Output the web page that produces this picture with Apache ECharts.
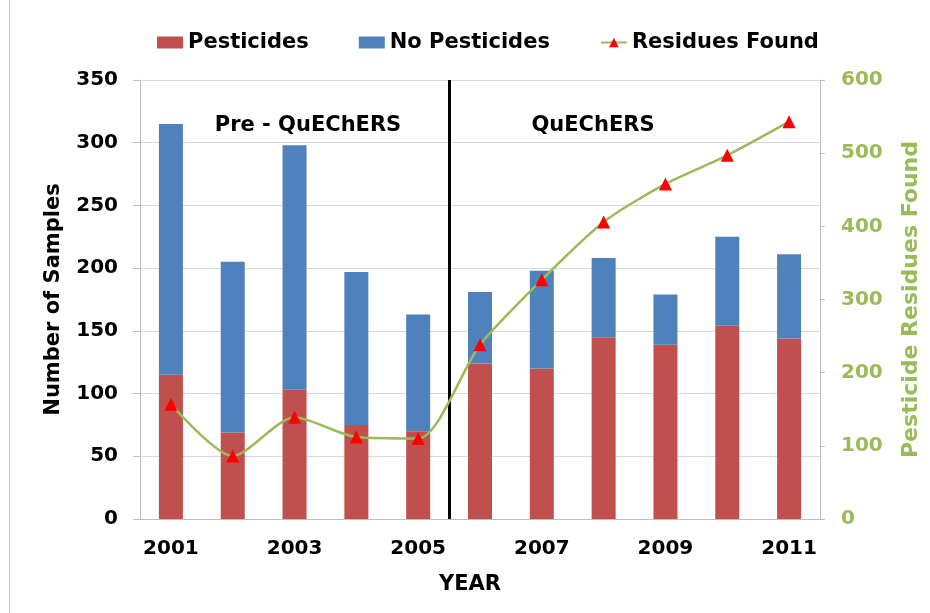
<!DOCTYPE html>
<html>
<head>
<meta charset="utf-8">
<script src="https://cdn.jsdelivr.net/npm/echarts@6/dist/echarts.min.js"></script>
<style>
  html, body { margin: 0; padding: 0; background: #fff; }
  #chart { width: 930px; height: 613px; }
</style>
</head>
<body>
<div id="chart"></div>
<script>
// Sample counts per year, split by outcome, and residues found
const years = ['2001', '2002', '2003', '2004', '2005', '2006', '2007', '2008', '2009', '2010', '2011'];
const withPesticides = [115, 69, 103, 75, 70, 124, 120, 145, 139, 154, 144];
const noPesticides = [200, 136, 195, 122, 93, 57, 78, 63, 40, 71, 67];
const residuesFound = [157, 86, 139, 112, 110, 238, 327, 406, 458, 497, 543];
const leftTicks = { min: 0, max: 350, interval: 50 };
const rightTicks = { min: 0, max: 600, interval: 100 };
// Position (in year slots) where the method changed
const methodChange = 5;

const FONT = '"DejaVu Sans", Verdana, sans-serif';
const GREEN = '#9bbb59';
const AXIS_GREY = '#bfbfbf';

const chart = echarts.init(document.getElementById('chart'));
chart.setOption({
  animation: false,
  textStyle: { fontFamily: FONT },
  grid: { left: 140, right: 103, top: 80, bottom: 94 },
  legend: {
    top: 27,
    left: 152,
    itemWidth: 26,
    itemHeight: 12,
    itemGap: 50,
    textStyle: { fontFamily: FONT, fontSize: 21, fontWeight: 'bold', color: '#000' },
    data: [
      { name: 'Pesticides', icon: 'rect' },
      { name: 'No Pesticides', icon: 'rect' },
      { name: 'Residues Found' }
    ]
  },
  xAxis: [{
    type: 'category',
    data: years,
    name: 'YEAR',
    nameLocation: 'middle',
    nameGap: 55,
    nameTextStyle: { fontFamily: FONT, fontSize: 21, fontWeight: 'bold', color: '#000', padding: [0, 20, 0, 0] },
    axisLine: { lineStyle: { color: AXIS_GREY } },
    axisTick: { interval: 0, length: 6, lineStyle: { color: AXIS_GREY } },
    axisLabel: { interval: 1, margin: 20, fontFamily: FONT, fontSize: 20, fontWeight: 'bold', color: '#000' },
    splitLine: { show: false }
  }, {
    type: 'value',
    min: 0,
    max: years.length,
    show: false
  }],
  yAxis: [{
    type: 'value',
    min: leftTicks.min,
    max: leftTicks.max,
    interval: leftTicks.interval,
    name: 'Number of Samples',
    nameLocation: 'middle',
    nameRotate: 90,
    nameGap: 76,
    nameTextStyle: { fontFamily: FONT, fontSize: 21, fontWeight: 'bold', color: '#000' },
    axisLine: { show: true, lineStyle: { color: AXIS_GREY } },
    axisTick: { show: true, length: 7, lineStyle: { color: AXIS_GREY } },
    axisLabel: { margin: 22, fontFamily: FONT, fontSize: 20, fontWeight: 'bold', color: '#000' },
    splitLine: { lineStyle: { color: '#d9d9d9' } }
  }, {
    type: 'value',
    min: rightTicks.min,
    max: rightTicks.max,
    interval: rightTicks.interval,
    position: 'right',
    name: 'Pesticide Residues Found',
    nameLocation: 'middle',
    nameRotate: 90,
    nameGap: 80,
    nameTextStyle: { fontFamily: FONT, fontSize: 22, fontWeight: 'bold', color: GREEN },
    axisLine: { show: true, lineStyle: { color: AXIS_GREY } },
    axisTick: { show: true, length: 5, lineStyle: { color: AXIS_GREY } },
    axisLabel: { margin: 21, fontFamily: FONT, fontSize: 20, fontWeight: 'bold', color: GREEN },
    splitLine: { show: false }
  }],
  graphic: [
    { type: 'line', shape: { x1: 9.5, y1: 0, x2: 9.5, y2: 613 }, style: { stroke: '#c8c8c8', lineWidth: 1 } },
    { type: 'text', x: 308, y: 126, style: { text: 'Pre - QuEChERS', align: 'center', verticalAlign: 'middle', fill: '#000', font: 'bold 21px ' + FONT } },
    { type: 'text', x: 593, y: 126, style: { text: 'QuEChERS', align: 'center', verticalAlign: 'middle', fill: '#000', font: 'bold 21px ' + FONT } }
  ],
  series: [{
    name: 'Pesticides',
    type: 'bar',
    stack: 'samples',
    barWidth: 24,
    itemStyle: { color: '#c0504d' },
    data: withPesticides
  }, {
    name: 'No Pesticides',
    type: 'bar',
    stack: 'samples',
    barWidth: 24,
    itemStyle: { color: '#4f81bd' },
    data: noPesticides
  }, {
    name: 'Residues Found',
    type: 'line',
    yAxisIndex: 1,
    smooth: 0.25,
    symbol: 'triangle',
    symbolSize: 13,
    lineStyle: { color: GREEN, width: 2.5 },
    itemStyle: { color: '#ff0000' },
    data: residuesFound,
    z: 5
  }, {
    name: 'divider',
    type: 'line',
    xAxisIndex: 1,
    data: [],
    markLine: {
      silent: true,
      symbol: 'none',
      label: { show: false },
      lineStyle: { color: '#000', width: 3, type: 'solid' },
      data: [{ xAxis: methodChange }]
    }
  }]
});
</script>
</body>
</html>
